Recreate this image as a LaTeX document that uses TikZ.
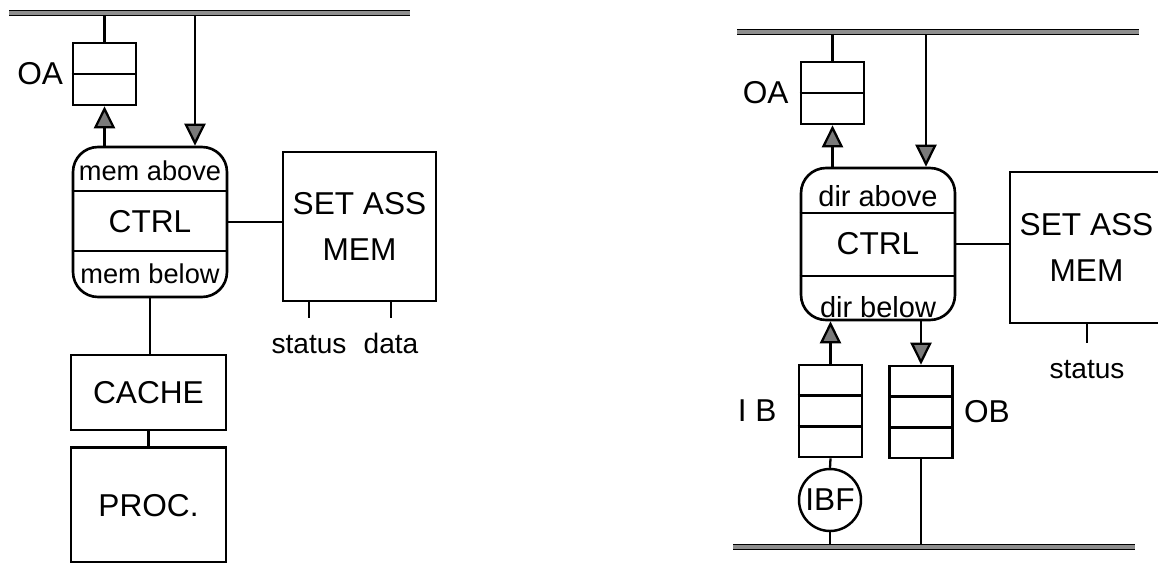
\documentclass[tikz,border=0pt]{standalone}
\usepackage{fontspec}
\setmainfont{Liberation Sans}
\usepackage{tikz}
\usetikzlibrary{arrows.meta,positioning,calc}
\definecolor{tipgray}{HTML}{7A7A7A}
\definecolor{busgray}{HTML}{8E8E8E}

\begin{document}
\begin{tikzpicture}[x=0.02cm, y=-0.02cm,
  unit/.style={draw, line width=1.5pt, minimum width=3.08cm, align=center,
    font=\fontsize{18}{26}\selectfont, inner sep=2pt},
  ctrlbox/.style={unit, rounded corners=0.5cm, minimum height=3cm},
  buffer/.style={draw, line width=1.5pt, minimum width=1.26cm},
  ibf/.style={circle, draw, line width=1.4pt, minimum size=1.24cm,
    inner sep=0pt, font=\fontsize{18}{22}\selectfont},
  bus/.style={draw=black, line width=0.6pt, double=busgray, double distance=1.8pt},
  wire/.style={line width=1.3pt},
  arrow/.style={wire, -{Triangle[length=4.4mm, width=4.2mm, fill=tipgray]}},
  tag/.style={font=\fontsize{18}{22}\selectfont},
  part/.style={font=\fontsize{15.5}{18}\selectfont, inner sep=1pt},
  sig/.style={font=\fontsize{16}{19}\selectfont, inner xsep=2pt, inner ysep=8pt,
    text height=11.5pt, text depth=0pt}
]
\useasboundingbox (0,0) rectangle (1158,563);

% left: memory side
\coordinate (lbusW) at (9,13);
\coordinate (lbusE) at (410,13);
\node[buffer, minimum height=1.24cm] (oaL) at (104.5,74) {};
\node[ctrlbox] (ctrlL) at (150,222) {CTRL};
\node[unit, minimum width=3.06cm, minimum height=2.98cm] (samL) at (359.5,226.5) {SET ASS\\MEM};
\node[unit, minimum width=3.1cm, minimum height=1.5cm] (cacheL) at (148.5,392.5) {CACHE};
\node[unit, minimum width=3.1cm, minimum height=2.3cm, below=0.3cm of cacheL] (procL) {PROC.};
\node[tag, left=0.05cm of oaL] (oaLbl) {OA};
\node[part] (memab) at ($(ctrlL.north)+(0,25)$) {mem above};
\node[part] (membe) at ($(ctrlL.south)+(0,-25)$) {mem below};
\node[sig] (statL) at (309,343) {status};
\node[sig] (dataL) at (391,343) {data};
\coordinate (inL) at ($(ctrlL.north)+(45,0)$);

\draw[wire] ($(oaL.north west)!.5!(oaL.south west)$) -- ($(oaL.north east)!.5!(oaL.south east)$);
\draw[wire] ($(ctrlL.north west)+(0,45)$) -- ($(ctrlL.north east)+(0,45)$);
\draw[wire] ($(ctrlL.south west)+(0,-47)$) -- ($(ctrlL.south east)+(0,-47)$);
\draw[wire] (oaL.north |- lbusW) -- (oaL.north);
\draw[arrow] (oaL.south |- ctrlL.north) -- (oaL.south);
\draw[arrow] (inL |- lbusW) -- (inL);
\draw[wire] (ctrlL.east) -- (ctrlL.east -| samL.west);
\draw[wire] (ctrlL.south) -- (ctrlL.south |- cacheL.north);
\draw[wire] (cacheL.south) -- (procL.north);
\draw[wire] (samL.south -| statL.north) -- (statL.north);
\draw[wire] (samL.south -| dataL.north) -- (dataL.north);
\draw[bus] (lbusW) -- (lbusE);

% right: directory side
\coordinate (rbusTW) at (737,32);
\coordinate (rbusTE) at (1139,32);
\coordinate (rbusBW) at (733,547);
\coordinate (rbusBE) at (1135,547);
\node[buffer, minimum height=1.24cm] (oaR) at (832.5,93) {};
\node[ctrlbox, minimum height=3.04cm] (ctrlR) at (878,244) {CTRL};
\node[unit, minimum width=3.06cm, minimum height=3.02cm] (samR) at (1086.5,247.5) {SET ASS\\MEM};
\node[buffer, minimum height=1.84cm] (ibR) at (830.5,411) {};
\node[buffer, minimum height=1.84cm] (obR) at (921,412) {};
\node[ibf] (ibfR) at (830,500) {IBF};
\node[tag, left=0.1cm of oaR] (oaRlbl) {OA};
\node[tag, left=0.3cm of ibR] (ibRlbl) {I B};
\node[tag, right=0.08cm of obR] (obRlbl) {OB};
\node[part, font=\fontsize{16.5}{19}\selectfont] (dirab) at ($(ctrlR.north)+(0,29)$) {dir above};
\node[part, font=\fontsize{16.5}{19}\selectfont] (dirbe) at ($(ctrlR.south)+(0,-14)$) {dir below};
\node[sig] (statR) at (1087,368) {status};
\coordinate (inR) at ($(ctrlR.north)+(48,0)$);

\draw[wire] ($(oaR.north west)!.5!(oaR.south west)$) -- ($(oaR.north east)!.5!(oaR.south east)$);
\foreach \f in {0.333,0.667} {
  \draw[line width=1.5pt] ($(ibR.north west)!\f!(ibR.south west)$) -- ($(ibR.north east)!\f!(ibR.south east)$);
  \draw[line width=1.5pt] ($(obR.north west)!\f!(obR.south west)$) -- ($(obR.north east)!\f!(obR.south east)$);
}
\draw[wire] ($(ctrlR.north west)+(0,46)$) -- ($(ctrlR.north east)+(0,46)$);
\draw[wire] ($(ctrlR.south west)+(0,-45)$) -- ($(ctrlR.south east)+(0,-45)$);
\draw[wire] (oaR.north |- rbusTW) -- (oaR.north);
\draw[arrow] (oaR.south |- ctrlR.north) -- (oaR.south);
\draw[arrow] (inR |- rbusTW) -- (inR);
\draw[wire] (ctrlR.east) -- (ctrlR.east -| samR.west);
\draw[arrow] (ibR.north) -- (ibR.north |- ctrlR.south);
\draw[arrow] (obR.north |- ctrlR.south) -- (obR.north);
\draw[wire] (ibR.south) -- (ibfR.north);
\draw[wire] (ibfR.south) -- (ibfR.south |- rbusBW);
\draw[wire] (obR.south) -- (obR.south |- rbusBW);
\draw[wire] (samR.south -| statR.north) -- (statR.north);
\draw[bus] (rbusTW) -- (rbusTE);
\draw[bus] (rbusBW) -- (rbusBE);
\end{tikzpicture}
\end{document}
